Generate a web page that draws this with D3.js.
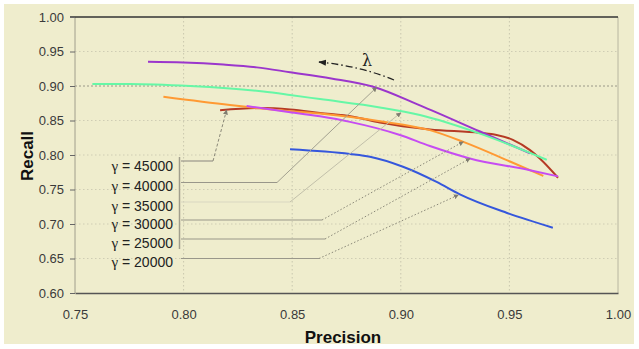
<!DOCTYPE html>
<html>
<head>
<meta charset="utf-8">
<script src="https://cdn.jsdelivr.net/npm/d3@7"></script>
<style>
  body { margin: 0; background: #fff; }
  svg { display: block; font-family: "Liberation Sans", Arial, sans-serif; }
</style>
</head>
<body>
<svg id="chart" width="639" height="349"></svg>
<script>
// precision / recall curves, one per gamma value
const gammas = [45000, 40000, 35000, 30000, 25000, 20000];

const precision45 = [0.8168, 0.8352, 0.849, 0.8628, 0.878, 0.8904, 0.9134, 0.9365, 0.9441, 0.9516, 0.9595, 0.964, 0.9724];
const recall45    = [0.865, 0.868, 0.866, 0.861, 0.8555, 0.847, 0.837, 0.832, 0.829, 0.822, 0.807, 0.795, 0.767];

const precision40 = [0.7836, 0.80, 0.8183, 0.8337, 0.849, 0.868, 0.8873, 0.9088, 0.9365, 0.9595];
const recall40    = [0.935, 0.934, 0.931, 0.927, 0.920, 0.911, 0.899, 0.872, 0.834, 0.8025];

const precision35 = [0.758, 0.7753, 0.803, 0.8367, 0.849, 0.8628, 0.8904, 0.9088, 0.9365, 0.9595, 0.9672];
const recall35    = [0.903, 0.903, 0.900, 0.892, 0.887, 0.881, 0.869, 0.858, 0.831, 0.803, 0.793];

const precision30 = [0.7907, 0.8213, 0.8428, 0.8628, 0.8904, 0.9134, 0.9288, 0.95, 0.9656];
const recall30    = [0.8845, 0.8725, 0.8652, 0.860, 0.849, 0.836, 0.819, 0.791, 0.7696];

const precision25 = [0.829, 0.8475, 0.8628, 0.8766, 0.8996, 0.9134, 0.9318, 0.9595, 0.9724];
const recall25    = [0.871, 0.8628, 0.856, 0.848, 0.829, 0.813, 0.795, 0.778, 0.769];

const precision20 = [0.849, 0.8766, 0.8858, 0.901, 0.9165, 0.9272, 0.9489, 0.970];
const recall20    = [0.8083, 0.8015, 0.7975, 0.783, 0.761, 0.743, 0.716, 0.6946];

// point on each curve that its label points to
const pointerPrecision = [0.8198, 0.8889, 0.9000, 0.9288, 0.9319, 0.9265];
const pointerRecall    = [0.8652, 0.8981, 0.8613, 0.8193, 0.7950, 0.7420];

const xTicks = [0.75, 0.80, 0.85, 0.90, 0.95, 1.00];
const yTicks = [0.60, 0.65, 0.70, 0.75, 0.80, 0.85, 0.90, 0.95, 1.00];

const colors = ['#b53a24', '#9b36cc', '#66f7a6', '#ff9a33', '#c64cf2', '#3557dc'];

const series = [
  [precision45, recall45],
  [precision40, recall40],
  [precision35, recall35],
  [precision30, recall30],
  [precision25, recall25],
  [precision20, recall20]
].map(([px, ry], i) => ({
  gamma: gammas[i],
  color: colors[i],
  values: px.map((p, j) => ({ p: p, r: ry[j] }))
}));

const svg = d3.select('#chart');

// khaki panel
svg.append('rect')
  .attr('x', 4).attr('y', 4)
  .attr('width', 630).attr('height', 340)
  .attr('fill', '#efedcd');

const x = d3.scaleLinear().domain([0.75, 1.0]).range([75, 618]);
const y = d3.scaleLinear().domain([0.6, 1.0]).range([293, 17]);

// gridlines
svg.append('g')
  .selectAll('line')
  .data(xTicks.slice(1, -1))
  .join('line')
  .attr('x1', d => x(d)).attr('x2', d => x(d))
  .attr('y1', y(1.0)).attr('y2', y(0.6))
  .attr('stroke', '#c9c7ae')
  .attr('stroke-dasharray', '1.5,2.5');

svg.append('g')
  .selectAll('line')
  .data(yTicks.slice(1, -1))
  .join('line')
  .attr('x1', x(0.75)).attr('x2', x(1.0))
  .attr('y1', d => y(d)).attr('y2', d => y(d))
  .attr('stroke', d => Math.abs(d - 0.9) < 1e-6 ? '#9a9888' : '#cfcdb4')
  .attr('stroke-dasharray', d => Math.abs(d - 0.9) < 1e-6 ? '2,2' : '1.5,2.5');

// frame
svg.append('line')
  .attr('x1', x(1.0)).attr('x2', x(1.0)).attr('y1', y(1.0)).attr('y2', y(0.6))
  .attr('stroke', '#b8b6a0');
svg.append('line')
  .attr('x1', x(0.75)).attr('x2', x(0.75)).attr('y1', y(1.0)).attr('y2', y(0.6))
  .attr('stroke', '#a09e8c');
svg.append('line')
  .attr('x1', 70).attr('x2', x(1.0)).attr('y1', y(1.0)).attr('y2', y(1.0))
  .attr('stroke', '#333').attr('stroke-width', 1.3);

// axes
const yAxis = d3.axisLeft(y).tickValues(yTicks).tickFormat(d3.format('.2f')).tickSize(5).tickPadding(6);
const xAxis = d3.axisBottom(x).tickValues(xTicks).tickFormat(d3.format('.2f')).tickSize(0).tickPadding(17);

svg.append('g')
  .attr('transform', `translate(${x(0.75)},0)`)
  .call(yAxis)
  .call(g => g.select('.domain').remove())
  .call(g => g.selectAll('.tick line').attr('stroke', '#666'))
  .call(g => g.selectAll('.tick text').attr('fill', '#3a3a3a').attr('font-size', 13)
    .attr('font-family', '"Liberation Sans", Arial, sans-serif'));

svg.append('g')
  .attr('transform', `translate(0,${y(0.6)})`)
  .call(xAxis)
  .call(g => g.select('.domain').attr('stroke', '#555').attr('stroke-width', 1.3))
  .call(g => g.selectAll('.tick text').attr('fill', '#3a3a3a').attr('font-size', 13)
    .attr('font-family', '"Liberation Sans", Arial, sans-serif'));

// axis titles
svg.append('text')
  .attr('x', 343).attr('y', 343)
  .attr('text-anchor', 'middle')
  .attr('font-weight', 'bold').attr('font-size', 17)
  .attr('fill', '#111')
  .text('Precision');

svg.append('text')
  .attr('transform', 'translate(33,156) rotate(-90)')
  .attr('text-anchor', 'middle')
  .attr('font-weight', 'bold').attr('font-size', 17)
  .attr('fill', '#111')
  .text('Recall');

// curves
const line = d3.line()
  .x(d => x(d.p))
  .y(d => y(d.r))
  .curve(d3.curveMonotoneX);

svg.append('g')
  .selectAll('path')
  .data(series)
  .join('path')
  .attr('d', d => line(d.values))
  .attr('fill', 'none')
  .attr('stroke', d => d.color)
  .attr('stroke-width', 2);

// gamma labels with leader lines
const labelY = [166, 186, 206, 224, 243, 262];
const elbowY = [161, 182.5, 202, 220, 239, 258.5];
const elbowX = [213, 277, 290, 322, 325, 319];
const leaderDash = ['3,2', null, null, '1.5,2', '1.5,2', '1.5,2'];
const leaderColor = ['#8a8878', '#a3a190', '#c2c0aa', '#8a8878', '#8a8878', '#8a8878'];

const defs = svg.append('defs');
defs.append('marker')
  .attr('id', 'tip')
  .attr('viewBox', '0 0 10 10')
  .attr('refX', 9).attr('refY', 5)
  .attr('markerWidth', 5).attr('markerHeight', 5)
  .attr('orient', 'auto')
  .append('path')
  .attr('d', 'M0,0L10,5L0,10z')
  .attr('fill', '#7f7d70');

const labels = svg.append('g');

labels.append('line')
  .attr('x1', 179.5).attr('x2', 179.5)
  .attr('y1', 157).attr('y2', 249)
  .attr('stroke', '#a09e8c').attr('stroke-width', 1.5);

gammas.forEach((g, i) => {
  const t = labels.append('text')
    .attr('x', 173).attr('y', labelY[i])
    .attr('dy', '0.35em')
    .attr('text-anchor', 'end')
    .attr('font-size', 14)
    .attr('fill', '#222');
  t.append('tspan')
    .attr('font-family', '"Liberation Serif", "DejaVu Serif", serif')
    .attr('font-size', 15)
    .text('γ');
  t.append('tspan').text(` = ${g}`);

  labels.append('polyline')
    .attr('points', `181,${elbowY[i]} ${elbowX[i]},${elbowY[i]}`)
    .attr('fill', 'none')
    .attr('stroke', i === 2 ? '#d9d7c2' : '#99978a')
    .attr('stroke-width', 1.2);

  labels.append('line')
    .attr('x1', elbowX[i]).attr('y1', elbowY[i])
    .attr('x2', x(pointerPrecision[i])).attr('y2', y(pointerRecall[i]))
    .attr('stroke', leaderColor[i])
    .attr('stroke-width', 1)
    .attr('stroke-dasharray', leaderDash[i])
    .attr('marker-end', 'url(#tip)');
});

// lambda direction arrow
defs.append('marker')
  .attr('id', 'lam')
  .attr('viewBox', '0 0 10 10')
  .attr('refX', 9).attr('refY', 5)
  .attr('markerWidth', 6).attr('markerHeight', 6)
  .attr('orient', 'auto')
  .append('path')
  .attr('d', 'M0,1L10,5L0,9z')
  .attr('fill', '#222');

svg.append('path')
  .attr('d', 'M394,80 Q360,66 319,62')
  .attr('fill', 'none')
  .attr('stroke', '#222')
  .attr('stroke-width', 1.3)
  .attr('stroke-dasharray', '7,3,1.5,3')
  .attr('marker-end', 'url(#lam)');

svg.append('text')
  .attr('x', 367).attr('y', 66)
  .attr('text-anchor', 'middle')
  .attr('font-family', '"DejaVu Serif", "Liberation Serif", serif')
  .attr('font-size', 16)
  .attr('fill', '#222')
  .text('λ');
</script>
</body>
</html>
